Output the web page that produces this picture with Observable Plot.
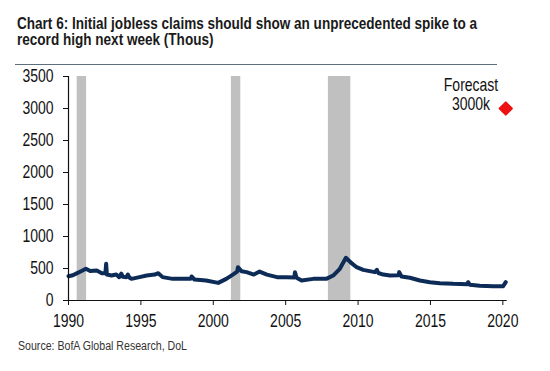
<!DOCTYPE html>
<html>
<head>
<meta charset="utf-8">
<script src="https://cdn.jsdelivr.net/npm/d3@7"></script>
<script src="https://cdn.jsdelivr.net/npm/@observablehq/plot@0.6"></script>
<style>
  html, body { margin: 0; padding: 0; background: #fff; }
  #wrap { position: relative; width: 550px; height: 371px; overflow: hidden; }
  #chart { position: absolute; left: 0; top: 0; }
  #title { position: absolute; left: 17px; top: 16px; font-family: "Liberation Sans", Arial, sans-serif; font-weight: bold; font-size: 16px; line-height: 16px; color: #1a1a1a; white-space: nowrap; transform-origin: 0 0; }
  #rule { position: absolute; left: 15px; top: 64px; width: 482px; height: 0; border-top: 1px solid #5f6e7d; }
  #source { position: absolute; left: 18px; top: 340px; font-family: "Liberation Sans", Arial, sans-serif; font-size: 12.5px; line-height: 13px; color: #333; white-space: nowrap; transform-origin: 0 0; }
</style>
</head>
<body>
<div id="wrap">
  <div id="chart"></div>
  <div id="title"><span id="t1">Chart 6: Initial jobless claims should show an unprecedented spike to a</span><br><span id="t2">record high next week (Thous)</span></div>
  <div id="rule"></div>
  <div id="source"><span id="s1">Source: BofA Global Research, DoL</span></div>
</div>
<script>
// Weekly initial jobless claims (thousands)
const years = [1990.0,1990.3,1990.6,1990.9,1991.2,1991.5,1991.95,1992.3,1992.55,1992.6,1992.65,1992.97,1993.3,1993.5,1993.65,1993.75,1994.0,1994.1,1994.2,1994.35,1994.9,1995.4,1995.96,1996.2,1996.5,1997.2,1997.9,1998.45,1998.5,1998.7,1999.5,2000.34,2000.9,2001.35,2001.65,2001.7,2001.95,2002.3,2002.8,2003.2,2003.7,2004.4,2004.8,2005.06,2005.6,2005.64,2005.75,2006.1,2006.9,2007.8,2008.28,2008.74,2009.16,2009.55,2009.9,2010.35,2011.16,2011.3,2011.4,2011.74,2012.2,2012.8,2012.84,2013.0,2013.58,2014.27,2014.96,2015.65,2016.57,2017.55,2017.6,2017.72,2018.4,2019.33,2020.02,2020.2];
const claims = [380,395,427,460,495,460,470,427,430,573,406,390,405,365,420,370,365,406,360,338,365,390,405,427,365,338,338,340,375,328,312,275,338,405,450,520,458,443,405,452,405,365,365,365,360,443,355,312,338,338,390,495,667,583,520,479,443,479,430,405,390,395,443,375,355,312,286,270,260,255,286,245,229,224,224,286];

// Recessions (NBER), shaded
const recessionStart = [1990.6, 2001.25, 2007.95];
const recessionEnd   = [1991.25, 2001.9, 2009.5];

// Forecast
const forecastYear = [2020.2];
const forecastValue = [3000];
const forecastLabel = ["Forecast\n3000k"];
const forecastLabelYear = [2017.8];
const forecastLabelValue = [3220];

const xTicks = [1990, 1995, 2000, 2005, 2010, 2015, 2020];
const yTicks = [0, 500, 1000, 1500, 2000, 2500, 3000, 3500];

const series = years.map((y, i) => ({x: y, v: claims[i]}));
const recessions = recessionStart.map((s, i) => ({x1: s, x2: recessionEnd[i]}));
const forecast = forecastYear.map((y, i) => ({x: y, v: forecastValue[i]}));
const labels = forecastLabel.map((t, i) => ({x: forecastLabelYear[i], v: forecastLabelValue[i], t}));

const chart = Plot.plot({
  width: 550,
  height: 371,
  marginLeft: 68,
  marginRight: 43.3,
  marginTop: 76,
  marginBottom: 71,
  style: {fontFamily: "'Liberation Sans', Arial, sans-serif", fontSize: "17.5px", color: "#111", background: "transparent"},
  x: {domain: [1990, 2020.3], label: null},
  y: {domain: [0, 3500], label: null},
  marks: [
    Plot.rect(recessions, {x1: "x1", x2: "x2", y1: 0, y2: 3500, fill: "#c0c0c0"}),
    Plot.line(series, {x: "x", y: "v", stroke: "#0c2b57", strokeWidth: 4, strokeLinejoin: "round", strokeLinecap: "round"}),
    Plot.dot(forecast, {x: "x", y: "v", symbol: "diamond2", r: 5.5, fill: "#ee1111", stroke: "#ee1111", strokeWidth: 2, strokeLinejoin: "round"}),
    Plot.text(labels, {x: "x", y: "v", text: "t", textAnchor: "middle", lineAnchor: "middle", lineHeight: 1.05, fontSize: 17.5, fill: "#111"}),
    Plot.axisX({ticks: xTicks, tickFormat: d => String(d), tickSize: 5, tickPadding: 9, stroke: "#111", fill: "#111", label: null}),
    Plot.axisY({ticks: yTicks, tickFormat: d => String(d), tickSize: 5, tickPadding: 10, stroke: "#111", fill: "#111", label: null}),
    Plot.ruleY([0], {stroke: "#111", strokeWidth: 1.2}),
    Plot.ruleX([1990], {stroke: "#111", strokeWidth: 1.2})
  ]
});
document.getElementById("chart").appendChild(chart);

// Condense chart texts horizontally (reference uses a narrow face)
chart.querySelectorAll("text").forEach(t => {
  const tr = t.getAttribute("transform") || "";
  t.setAttribute("transform", (tr + " scale(0.8,1)").trim());
  const x = t.getAttribute("x");
  if (x != null) t.setAttribute("x", String(parseFloat(x) / 0.8));
});

// Fit title and source to the reference widths
const t1 = document.getElementById("t1");
const title = document.getElementById("title");
title.style.transform = `scaleX(${460 / t1.getBoundingClientRect().width})`;
const s1 = document.getElementById("s1");
document.getElementById("source").style.transform = `scaleX(${169 / s1.getBoundingClientRect().width})`;
</script>
</body>
</html>
